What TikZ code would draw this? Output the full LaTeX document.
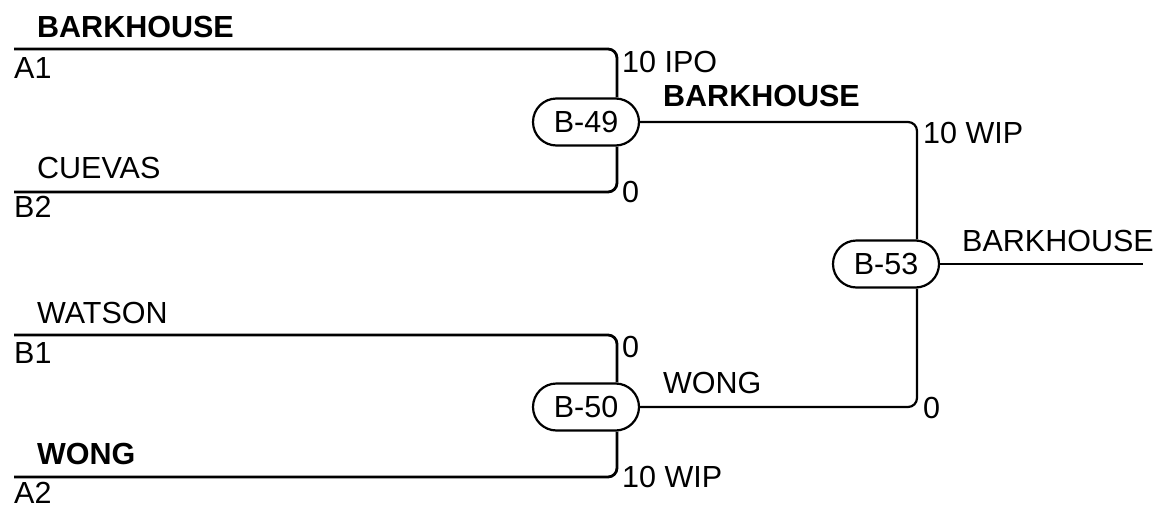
\documentclass[tikz,border=0pt]{standalone}
\usepackage{fontspec}
\setmainfont{Liberation Sans}
\usetikzlibrary{shapes.misc, positioning}
\tikzset{
    match/.style={rounded rectangle, draw, line width=2.2pt, minimum width=106pt, minimum height=47pt, inner sep=0pt},
    seed/.style={draw, line width=2.8pt, rounded corners=9pt},
    link/.style={draw, line width=2.2pt, rounded corners=9pt},
    lbl/.style={anchor=base west, inner sep=0pt},
    winner/.style={lbl, font=\fontsize{30.5}{36}\selectfont\bfseries}
}
\begin{document}
\begin{tikzpicture}[x=1pt, y=-1pt, every node/.style={font=\fontsize{30.5}{36}\selectfont}]
    \useasboundingbox (0,0) rectangle (1160,504);

    % Draw the matches
    \node[match] (b49) at (586,122) {B-49};
    \node[match] (b50) at (586,407) {B-50};
    \node[match] (b53) at (886,264) {B-53};

    % Line starts
    \coordinate (a1) at (14,49);
    \coordinate (b2) at (14,192);
    \coordinate (b1) at (14,335);
    \coordinate (a2) at (14,477);
    \coordinate (champ) at (1143,264);

    % Draw the seed lines
    \draw[seed] (a1) -| ([xshift=31pt]b49.north);
    \draw[seed] (b2) -| ([xshift=31pt]b49.south);
    \draw[seed] (b1) -| ([xshift=31pt]b50.north);
    \draw[seed] (a2) -| ([xshift=31pt]b50.south);

    % Draw the links between matches
    \draw[link] (b49.east) -| ([xshift=31pt]b53.north);
    \draw[link] (b50.east) -| ([xshift=31pt]b53.south);
    \draw[link] (b53.east) -- (champ);

    % Names and seeds
    \node[winner] (nameA1) at (37,37) {BARKHOUSE};
    \node[lbl] (seedA1) at (14,78) {A1};
    \node[lbl] (nameB2) at (37,178) {CUEVAS};
    \node[lbl] (seedB2) at (14,217) {B2};
    \node[lbl] (nameB1) at (37,323) {WATSON};
    \node[lbl] (seedB1) at (14,363) {B1};
    \node[winner] (nameA2) at (37,464) {WONG};
    \node[lbl] (seedA2) at (14,503) {A2};

    % Scores
    \node[lbl] (scoreA1) at (622,72) {10 IPO};
    \node[lbl] (scoreB2) at (622,202) {0};
    \node[lbl] (scoreB1) at (622,357) {0};
    \node[lbl] (scoreA2) at (622,487) {10 WIP};
    \node[lbl] (score49) at (923,143) {10 WIP};
    \node[lbl] (score50) at (923,418) {0};

    % Winners of the matches
    \node[winner] (win49) at (663,106) {BARKHOUSE};
    \node[lbl] (win50) at (663,393) {WONG};
    \node[lbl] (win53) at (962,251) {BARKHOUSE};
\end{tikzpicture}
\end{document}
